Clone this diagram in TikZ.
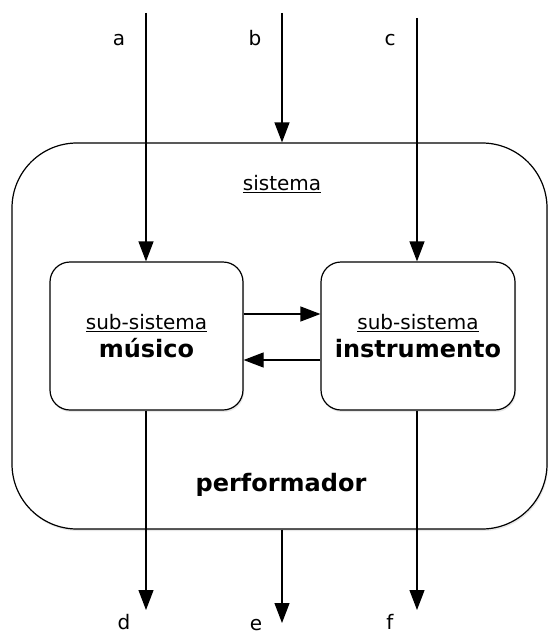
\documentclass[tikz,border=0pt]{standalone}
\usepackage{fontspec}
\setmainfont{DejaVu Sans}
\usetikzlibrary{arrows.meta,shadows}
\tikzset{
  box/.style={draw, line width=1.2pt, fill=white, rounded corners=#1,
    drop shadow={opacity=0.18, shadow xshift=1pt, shadow yshift=-2pt}},
  flow/.style={line width=1.2pt, -{Triangle[length=20pt,width=15pt]}},
  lbl/.style={font=\fontsize{20}{24}\selectfont, anchor=base, inner sep=0pt},
  ttl/.style={font=\fontsize{20}{26}\selectfont, align=center, inner sep=0pt}
}
\begin{document}
\begin{tikzpicture}[x=1pt,y=-1pt]
\useasboundingbox (0,0) rectangle (548,634);

% outer system
\node[box=65, minimum width=535pt, minimum height=386pt] (outer) at (279.5,336) {};
\node[ttl] (sis) at (282,184) {\underline{sistema}};
\node[ttl, font=\fontsize{24}{28}\selectfont\bfseries] (perf) at (281,485) {performador};

% sub-systems
\node[box=20, minimum width=193pt, minimum height=148pt] (mus) at (146.5,336) {};
\node[box=20, minimum width=194pt, minimum height=148pt] (ins) at (418,336) {};
\node[ttl] (mustxt) at (mus.center) {\underline{sub-sistema}\\[2pt]{\fontsize{24}{28}\selectfont\bfseries músico}};
\node[ttl] (instxt) at (ins.center) {\underline{sub-sistema}\\[2pt]{\fontsize{24}{28}\selectfont\bfseries instrumento}};

% free ends of the inputs and outputs
\coordinate (ia) at (146,13);
\coordinate (ib) at (282,13);
\coordinate (ic) at (417,18);
\coordinate (od) at (146,610);
\coordinate (oe) at (282,623);
\coordinate (of) at (417,610);
\coordinate (h1) at (0,314);
\coordinate (h2) at (0,360);

% inputs
\draw[flow] (ia) -- (ia |- mus.north);
\draw[flow] (ib) -- (ib |- outer.north);
\draw[flow] (ic) -- (ic |- ins.north);

% exchange between sub-systems
\draw[flow] (mus.east |- h1) -- (ins.west |- h1);
\draw[flow] (ins.west |- h2) -- (mus.east |- h2);

% outputs
\draw[flow] (od |- mus.south) -- (od);
\draw[flow] (oe |- outer.south) -- (oe);
\draw[flow] (of |- ins.south) -- (of);

% signal labels
\node[lbl] (la) at (119,46) {a};
\node[lbl] (lb) at (255,46) {b};
\node[lbl] (lc) at (390,46) {c};
\node[lbl] (ld) at (124,629) {d};
\node[lbl] (le) at (256,630) {e};
\node[lbl] (lf) at (390,629) {f};
\end{tikzpicture}
\end{document}
